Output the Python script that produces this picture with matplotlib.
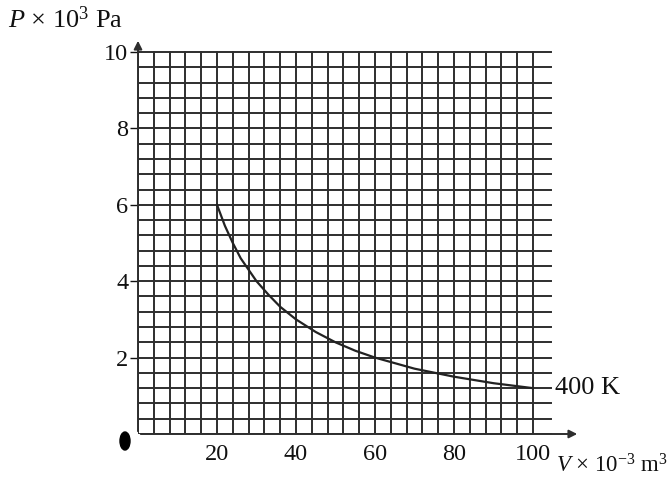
import matplotlib
matplotlib.use("Agg")
import matplotlib.pyplot as plt
import numpy as np
from matplotlib.patches import Ellipse

# Data (isotherm at 400 K)
volume = [20, 22, 24, 26, 28, 30, 33, 36, 40, 45, 50, 55, 60, 70, 80, 90, 100]
pressure = [6.0, 5.45, 5.0, 4.6, 4.3, 4.0, 3.65, 3.33, 3.0, 2.67, 2.4, 2.18,
            2.0, 1.71, 1.5, 1.33, 1.2]
x_ticks = [20, 40, 60, 80, 100]
y_ticks = [2, 4, 6, 8, 10]
curve_label = "400 K"

plt.rcParams['font.family'] = ['Liberation Serif', 'DejaVu Serif']
plt.rcParams['mathtext.fontset'] = 'custom'
plt.rcParams['mathtext.rm'] = 'Liberation Serif'
plt.rcParams['mathtext.it'] = 'Liberation Serif:italic'

W, H = 672, 488
fig = plt.figure(figsize=(W / 100, H / 100), dpi=100)

x0px, x100px = 138, 533
y0px, y10px = 434, 52
xr = 580
yt = 38
ppx = (x100px - x0px) / 100.0
ppy = (y0px - y10px) / 10.0
xmax = (xr - x0px) / ppx
ymax = (y0px - yt) / ppy

ax = fig.add_axes([x0px / W, (H - y0px) / H, (xr - x0px) / W, (y0px - yt) / H])
ax.set_xlim(0, xmax)
ax.set_ylim(0, ymax)
for s in ax.spines.values():
    s.set_visible(False)

gc = '#2e2e2e'
# grid
grid_xmax = 104.5
for gx in np.arange(0, 100.01, 4):
    ax.plot([gx, gx], [0, 10], color=gc, lw=1.4, zorder=1)
for gy in np.arange(0, 10.01, 0.4):
    ax.plot([0, grid_xmax], [gy, gy], color=gc, lw=1.4, zorder=1)

# axes arrows
ax.annotate('', xy=(xmax, 0), xytext=(0, 0),
            arrowprops=dict(arrowstyle='-|>', color=gc, lw=1.4,
                            mutation_scale=12), zorder=3)
ax.annotate('', xy=(0, ymax), xytext=(0, 0),
            arrowprops=dict(arrowstyle='-|>', color=gc, lw=1.4,
                            mutation_scale=12), zorder=3)

# curve
ax.plot(volume, pressure, color='#222222', lw=1.6, zorder=4)
ax.text(105.5, pressure[-1], curve_label, fontsize=19, va='center', ha='left',
        color='#111111')

ax.set_xticks(x_ticks)
ax.set_yticks(y_ticks)
ax.tick_params(axis='x', length=0, pad=7, labelsize=17.5, colors='#111111')
ax.tick_params(axis='y', length=6, width=1, direction='out', pad=1,
               labelsize=17.5, colors='#111111')
ax.set_xticklabels([str(v) for v in x_ticks])
ax.set_yticklabels([str(v) for v in y_ticks])

# origin mark
fig.patches.append(Ellipse((125 / W, (H - 441) / H), 10 / W, 18 / H,
                           transform=fig.transFigure, color='black'))

# axis titles
fig.text(8 / W, (H - 20) / H, r'$P$ × 10$^3$ Pa', fontsize=19, va='center',
         ha='left', color='#111111')
fig.text(556 / W, (H - 466) / H, r'$V$ × 10$^{-3}$ m$^3$', fontsize=16.5,
         va='center', ha='left', color='#111111')

fig.savefig('out.png', dpi=100)
